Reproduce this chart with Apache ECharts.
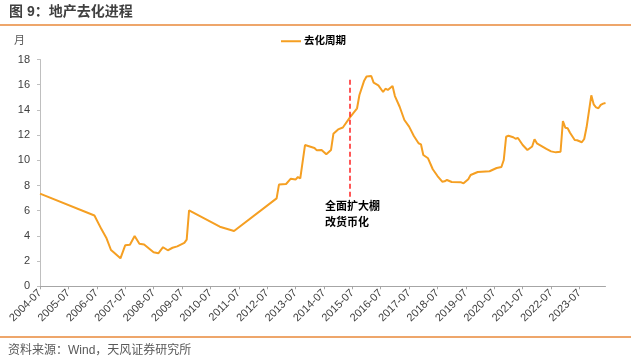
<!DOCTYPE html>
<html>
<head>
<meta charset="utf-8">
<script src="https://cdn.jsdelivr.net/npm/echarts@6/dist/echarts.min.js"></script>
<style>
html,body{margin:0;padding:0;background:#fff;}
#chart{width:631px;height:364px;}
</style>
</head>
<body>
<div id="chart"></div>
<script>
// Observation months (sparse) and values of the 去化周期 series
const dates = [
  '2004-07','2006-06','2006-09','2006-11','2007-01','2007-02','2007-05','2007-07','2007-09','2007-11',
  '2008-01','2008-03','2008-07','2008-09','2008-11','2009-01','2009-03','2009-05','2009-08','2009-09',
  '2009-10','2010-11','2011-05','2012-11','2012-12','2013-03','2013-05','2013-07','2013-08','2013-09',
  '2013-11','2014-03','2014-04','2014-06','2014-08','2014-10','2014-11','2015-01','2015-03','2015-06',
  '2015-09','2015-10','2015-12','2016-01','2016-03','2016-04','2016-06','2016-08','2016-09','2016-10',
  '2016-12','2017-01','2017-03','2017-05','2017-07','2017-09','2017-11','2017-12','2018-01','2018-03',
  '2018-05','2018-07','2018-09','2018-10','2018-11','2019-01','2019-05','2019-06','2019-08','2019-09',
  '2019-12','2020-05','2020-08','2020-10','2020-11','2020-12','2021-01','2021-03','2021-04','2021-05',
  '2021-07','2021-09','2021-11','2021-12','2022-01','2022-03','2022-05','2022-07','2022-09','2022-11',
  '2022-12','2023-01','2023-02','2023-03','2023-05','2023-06','2023-08','2023-09','2023-10','2023-12',
  '2024-01','2024-02','2024-03','2024-04','2024-05','2024-06'
];
const values = [
  7.35,5.62,4.52,3.86,2.88,2.72,2.22,3.25,3.30,3.99,
  3.38,3.32,2.70,2.62,3.10,2.86,3.06,3.17,3.44,3.70,
  6.02,4.73,4.39,6.98,8.07,8.12,8.54,8.47,8.67,8.57,
  11.21,10.98,10.79,10.82,10.48,10.82,12.10,12.45,12.60,13.41,
  14.13,15.18,16.32,16.65,16.69,16.16,15.95,15.42,15.68,15.58,
  15.90,15.10,14.25,13.20,12.67,11.93,11.35,11.27,10.42,10.16,
  9.29,8.75,8.30,8.33,8.44,8.28,8.25,8.17,8.50,8.83,
  9.07,9.13,9.39,9.47,10.02,11.87,11.95,11.83,11.71,11.77,
  11.21,10.82,11.10,11.67,11.35,11.13,10.90,10.71,10.63,10.68,
  13.12,12.59,12.54,12.19,11.61,11.59,11.43,11.69,12.62,15.16,
  14.44,14.20,14.13,14.40,14.50,14.55
];
const seriesName = '去化周期';
const yTicks = [0,2,4,6,8,10,12,14,16,18];
const policyMonth = '2015-06';
const policyRange = [7.1, 16.4];
const policyText = '全面扩大棚\n改货币化';

// monthly category axis 2004-07 .. 2024-06
const months = [];
for (let y = 2004, m = 7; !(y === 2024 && m === 7); ) {
  months.push(y + '-' + String(m).padStart(2,'0'));
  m++; if (m > 12) { m = 1; y++; }
}

const pairs = dates.map((d, i) => [d, values[i]]);

const FONT = "'Liberation Sans', 'Noto Sans CJK SC', sans-serif";
const chart = echarts.init(document.getElementById('chart'), null, {renderer:'canvas'});
chart.setOption({
  animation: false,
  backgroundColor: '#fff',
  textStyle: {fontFamily: FONT},
  title: {
    text: '图 9：地产去化进程',
    left: 9, top: 5, padding: 0,
    textStyle: {fontSize: 14, fontWeight: 'bold', color: '#404040', fontFamily: FONT}
  },
  legend: {
    data: [seriesName],
    left: 281, top: 36,
    icon: 'rect', itemWidth: 20, itemHeight: 2, itemGap: 10,
    padding: 0,
    textStyle: {fontSize: 10.5, fontWeight: 'bold', color: '#000', fontFamily: FONT, padding: [0,0,0,-2]}
  },
  grid: {left: 40, right: 25.5, top: 59.5, bottom: 77.7, containLabel: false},
  xAxis: {
    type: 'category',
    data: months,
    boundaryGap: false,
    axisLine: {lineStyle: {color: '#A6A6A6', width: 1}},
    axisTick: {show: true, interval: 11, length: 3, lineStyle: {color: '#A6A6A6'}},
    axisLabel: {interval: 11, rotate: 45, fontSize: 11, color: '#404040', margin: 5, fontFamily: FONT},
    splitLine: {show: false}
  },
  yAxis: {
    type: 'value',
    min: yTicks[0], max: yTicks[yTicks.length-1], interval: 2,
    axisLine: {show: true, lineStyle: {color: '#BFBFBF', width: 1}},
    axisTick: {show: true, length: 3, lineStyle: {color: '#BFBFBF'}},
    axisLabel: {fontSize: 11, color: '#404040', margin: 10, fontFamily: FONT},
    splitLine: {show: false}
  },
  series: [{
    name: seriesName,
    type: 'line',
    data: pairs,
    showSymbol: false,
    symbol: 'none',
    lineStyle: {color: '#F59F22', width: 2},
    itemStyle: {color: '#F59F22'},
    markLine: {
      silent: true,
      symbol: ['none','none'],
      label: {show: false},
      lineStyle: {color: '#FF2020', type: [5,3], width: 1.5},
      data: [[{coord: [policyMonth, policyRange[1]]}, {coord: [policyMonth, policyRange[0]]}]]
    }
  }],
  graphic: [
    {type: 'line', shape: {x1: 0, y1: 25, x2: 631, y2: 25}, style: {stroke: '#E8883A', lineWidth: 1.5}},
    {type: 'line', shape: {x1: 0, y1: 337, x2: 631, y2: 337}, style: {stroke: '#E8883A', lineWidth: 1.5}},
    {type: 'text', left: 14, top: 35, style: {text: '月', fontSize: 11, fill: '#595959', fontFamily: FONT}},
    {type: 'text', left: 325, top: 199, style: {text: policyText, fontSize: 11, lineHeight: 16, fontWeight: 'bold', fill: '#000', fontFamily: FONT}},
    {type: 'text', left: 8, top: 345, style: {text: '资料来源：Wind，天风证券研究所', fontSize: 12, fill: '#595959', fontFamily: FONT}}
  ]
});
</script>
</body>
</html>
